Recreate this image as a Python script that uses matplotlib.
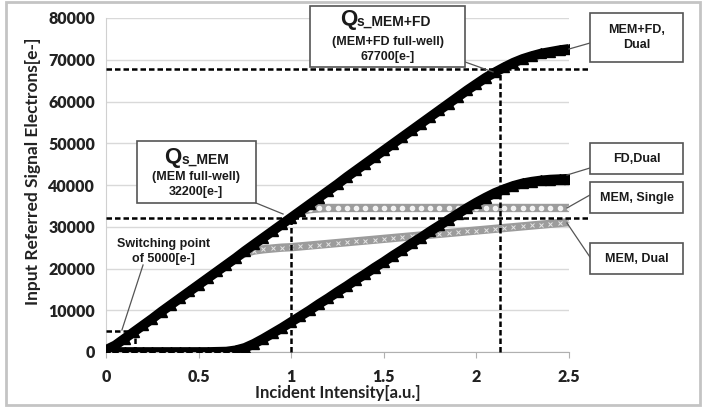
import numpy as np
import matplotlib.pyplot as plt
from matplotlib.patches import Rectangle

# incident intensity [a.u.]
x = np.round(np.arange(0, 2.5001, 0.05), 2)

# input referred signal electrons [e-]
mem_fd_dual = [500, 1600, 3200, 4800, 6400, 8000, 9700, 11300, 12900, 14500,
               16100, 17700, 19300, 20900, 22500, 24200, 25800, 27400, 29000, 30600,
               32200, 33800, 35400, 37000, 38600, 40200, 41900, 43500, 45100, 46700,
               48300, 49900, 51500, 53100, 54700, 56300, 57900, 59500, 61100, 62700,
               64200, 65700, 67000, 68200, 69300, 70200, 70900, 71500, 71900, 72300,
               72600]
fd_dual = [0, 0, 0, 0, 0, 0, 0, 0, 0, 0,
           0, 0, 50, 100, 400, 1000, 2000, 3200, 4500, 5800,
           7200, 8600, 10000, 11500, 12900, 14400, 15800, 17300, 18700, 20200,
           21600, 23100, 24500, 26000, 27400, 28900, 30300, 31700, 33100, 34500,
           35800, 37000, 38100, 39000, 39800, 40400, 40800, 41100, 41300, 41400,
           41500]
mem_single = [500, 1600, 3200, 4800, 6400, 8000, 9700, 11300, 12900, 14500,
              16100, 17700, 19300, 20900, 22500, 24200, 25800, 27400, 29000, 30600,
              32200, 33700, 34200, 34400, 34500, 34500, 34500, 34500, 34500, 34500,
              34500, 34500, 34500, 34500, 34500, 34500, 34500, 34500, 34500, 34500,
              34500, 34500, 34500, 34500, 34500, 34500, 34500, 34500, 34500, 34500,
              34500]
mem_dual = [500, 1600, 3200, 4800, 6400, 8000, 9700, 11300, 12900, 14500,
            16100, 17700, 19300, 20900, 22500, 23700, 24300, 24600, 24800, 25000,
            25100, 25300, 25500, 25700, 25900, 26100, 26300, 26500, 26700, 26900,
            27100, 27300, 27500, 27700, 27900, 28100, 28300, 28500, 28700, 28900,
            29100, 29300, 29500, 29700, 29900, 30100, 30300, 30500, 30700, 30900,
            31100]

qs_mem = 32200
qs_mem_fd = 67700
switch_level = 5000

box_font = ['Liberation Sans', 'DejaVu Sans']
tick_font = ['Lato', 'DejaVu Sans']

fig = plt.figure(figsize=(7.05, 4.07), dpi=100)
ax = fig.add_axes([106 / 705, 55 / 407, 463 / 705, 334 / 407])
ax.set_xlim(0, 2.5)
ax.set_ylim(0, 80000)

ax.set_yticks(np.arange(0, 80001, 10000))
ax.set_xticks([0, 0.5, 1, 1.5, 2, 2.5])
ax.set_xticklabels(['0', '0.5', '1', '1.5', '2', '2.5'])
ax.grid(axis='y', color='#d9d9d9', lw=1)
ax.set_axisbelow(True)
for s in ['top', 'right']:
    ax.spines[s].set_visible(False)
ax.spines['left'].set_color('#d0d0d0')
ax.spines['bottom'].set_color('#b0b0b0')
ax.tick_params(axis='y', length=0, pad=8)
ax.tick_params(axis='x', length=4, color='#b0b0b0', pad=8)
for lab in ax.get_xticklabels() + ax.get_yticklabels():
    lab.set_family(tick_font)
    lab.set_fontweight('heavy')
    lab.set_fontsize(11.5)
    lab.set_color('#222222')

ax.set_xlabel('Incident Intensity[a.u.]', family=tick_font, fontweight='bold',
              fontsize=12, color='#222222')
ax.set_ylabel('Input Referred Signal Electrons[e-]', family=tick_font,
              fontweight='bold', fontsize=12.5, color='#222222')
ax.xaxis.set_label_coords(0.50, -0.098)
ax.yaxis.set_label_coords(-0.14, 0.54)

# gray series (drawn underneath)
ax.plot(x, mem_dual, color='#9c9c9c', lw=6, solid_capstyle='butt', zorder=2)
ax.plot(x, mem_dual, ls='none', marker='x', ms=3.5, color='#e6e6e6', mew=0.7, zorder=2)
ax.plot(x, mem_single, color='#9c9c9c', lw=6, solid_capstyle='butt', zorder=2)
ax.plot(x, mem_single, ls='none', marker='o', ms=3, mfc='#f2f2f2', mec='#f2f2f2', zorder=2)

# black series
for y in (fd_dual, mem_fd_dual):
    ax.plot(x, y, color='black', lw=7, marker='^', ms=7, mec='black',
            solid_capstyle='butt', zorder=3)

# dashed guide lines
dash = dict(color='black', lw=1.8, ls=(0, (2.2, 1.2)), clip_on=False, zorder=4)
ax.plot([0, 2.6], [qs_mem_fd, qs_mem_fd], **dash)
ax.plot([0, 2.6], [qs_mem, qs_mem], **dash)
ax.plot([2.13, 2.13], [0, qs_mem_fd], **dash)
ax.plot([1, 1], [0, qs_mem], **dash)
ax.plot([0, 0.157], [switch_level, switch_level], **dash)
ax.plot([0.157, 0.157], [0, switch_level], **dash)

lead = dict(color='#555555', lw=0.9, clip_on=False, zorder=5)
box_kw = dict(fill=True, fc='white', ec='#555555', lw=1.2, clip_on=False, zorder=6)
txt = dict(family=box_font, fontweight='bold', color='#1a1a1a', zorder=7,
           va='center', clip_on=False)

# Qs_MEM box
ax.add_patch(Rectangle((0.167, 35690), 0.643, 14840, **box_kw))
ax.plot([0.81, 0.956], [35690, 33050], **lead)
ax.text(0.406, 46700, 'Q', ha='right', fontsize=16, **txt)
ax.text(0.406, 46100, 's_MEM', ha='left', fontsize=10, **txt)
ax.text(0.488, 41900, '(MEM full-well)', ha='center', fontsize=9, **txt)
ax.text(0.488, 38300, '32200[e-]', ha='center', fontsize=9, **txt)

# Qs_MEM+FD box
ax.add_patch(Rectangle((1.10, 68260), 0.84, 14610, **box_kw))
ax.plot([1.94, 2.09], [69450, 67070], **lead)
ax.text(1.355, 79600, 'Q', ha='right', fontsize=16, **txt)
ax.text(1.355, 79000, 's_MEM+FD', ha='left', fontsize=10, **txt)
ax.text(1.52, 74250, '(MEM+FD full-well)', ha='center', fontsize=9, **txt)
ax.text(1.52, 70650, '67700[e-]', ha='center', fontsize=9, **txt)

# switching point note
ax.text(0.31, 24100, 'Switching point\nof 5000[e-]', ha='center', fontsize=9,
        linespacing=1.25, **txt)
ax.plot([0.2, 0.086], [20840, 5270], **lead)

# series labels on the right
labels = [('MEM+FD,\nDual', 69455, 81190, (2.5, 72570), 74000),
          ('FD,Dual', 42630, 50055, (2.489, 42390), 44070),
          ('MEM, Single', 33290, 40715, (2.489, 34490), 37600),
          ('MEM, Dual', 18680, 26100, (2.489, 30900), 22750)]
for text, y0, y1, start, yend in labels:
    ax.add_patch(Rectangle((2.613, y0), 0.503, y1 - y0, **box_kw))
    ax.plot([start[0], 2.613], [start[1], yend], **lead)
    ax.text(2.8645, (y0 + y1) / 2, text, ha='center', fontsize=9,
            linespacing=1.3, **txt)

fig.patches.append(Rectangle((0.009, 0.004), 0.984, 0.99, transform=fig.transFigure,
                             fill=False, ec='#c4c4c4', lw=2))

fig.savefig('out.png', dpi=100)
